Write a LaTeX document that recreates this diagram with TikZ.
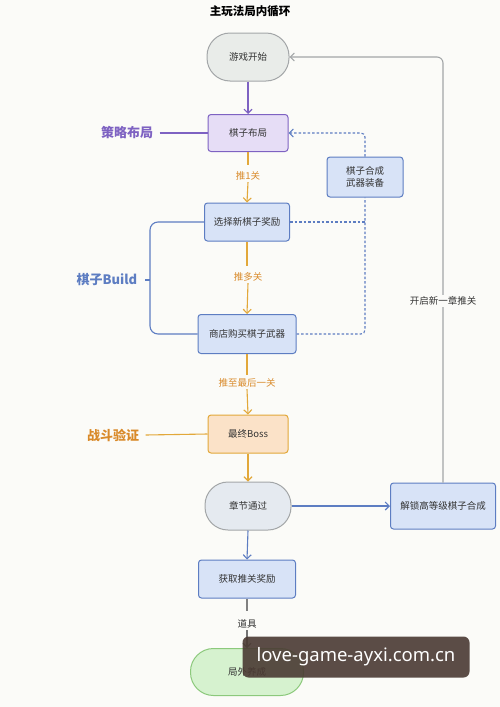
\documentclass[tikz,border=0pt]{standalone}
\usepackage{fontspec}
\setmainfont{Noto Sans CJK SC}
\newfontfamily\wmfont{Noto Sans}
\usetikzlibrary{arrows.meta}
\definecolor{bgc}{HTML}{FBFBF8}
\definecolor{purp}{HTML}{7E62C2}
\definecolor{purpfill}{HTML}{E6DDF6}
\definecolor{orng}{HTML}{E2A83A}
\definecolor{orngtxt}{HTML}{D98A2A}
\definecolor{orngfill}{HTML}{FBE2C8}
\definecolor{blu}{HTML}{5D7DC2}
\definecolor{blufill}{HTML}{D8E3F7}
\definecolor{gry}{HTML}{A3A6A8}
\definecolor{gryfill}{HTML}{E9ECE9}
\definecolor{gbfill}{HTML}{E5EAF0}
\definecolor{grn}{HTML}{8CC97C}
\definecolor{grnfill}{HTML}{D6F2CF}
\definecolor{wm}{HTML}{4A3A33}
\tikzset{
  box/.style={draw, rounded corners=3pt, line width=1pt, inner sep=0pt, font=\fontsize{9.5}{11}\selectfont, text=black!80, align=center},
  stad/.style={box, rounded corners=23pt},
  arr/.style={-{Straight Barb[length=4pt,width=8pt]}, line width=1.1pt},
  dsh/.style={dash pattern=on 2.5pt off 2pt, line width=1.1pt, draw=blu},
  lbl/.style={fill=bgc, inner sep=1.5pt, font=\fontsize{9.5}{11}\selectfont},
  sidelbl/.style={font=\fontsize{13}{15}\selectfont\bfseries},
}
\begin{document}
\begin{tikzpicture}[x=1pt,y=-1pt]
\useasboundingbox[fill=bgc] (0,0) rectangle (500,707);
\node[font=\fontsize{11.5}{13}\selectfont\bfseries] (title) at (250,11) {主玩法局内循环};

\node[stad, draw=gry, fill=gryfill, minimum width=82pt, minimum height=48pt] (start) at (248,57) {游戏开始};
\node[box, draw=purp, fill=purpfill, minimum width=80pt, minimum height=37pt] (layout) at (248,133) {棋子布局};
\node[box, draw=blu, fill=blufill, minimum width=85pt, minimum height=38pt] (pick) at (247,222) {选择新棋子奖励};
\node[box, draw=blu, fill=blufill, minimum width=98pt, minimum height=39pt] (shop) at (247,334) {商店购买棋子武器};
\node[box, draw=orng, fill=orngfill, minimum width=80pt, minimum height=38pt] (boss) at (248,434) {最终Boss};
\node[stad, draw=gry, fill=gbfill, minimum width=86pt, minimum height=48pt] (clear) at (248,506) {章节通过};
\node[box, draw=blu, fill=blufill, minimum width=105pt, minimum height=46pt] (unlock) at (443,506) {解锁高等级棋子合成};
\node[box, draw=blu, fill=blufill, minimum width=76pt, minimum height=40pt] (merge) at (365,177) {棋子合成\\[1pt]武器装备};
\node[box, draw=blu, fill=blufill, minimum width=97pt, minimum height=38pt] (reward) at (247,579) {获取推关奖励};
\node[stad, draw=grn, fill=grnfill, minimum width=113pt, minimum height=47pt] (meta) at (247,672) {局外养成};

\node[sidelbl, text=purp] (l1) at (127,133) {策略布局};
\node[sidelbl, text=blu] (l2) at (107,280) {棋子Build};
\node[sidelbl, text=orngtxt] (l3) at (113,435) {战斗验证};

% side connectors
\draw[purp, line width=1.1pt] (l1.east) ++(3,0) coordinate (l1e) -- (layout.west);
\draw[orng, line width=1.1pt] (l3.east) ++(3,0) coordinate (l3e) -- (boss.west);
\coordinate (bx) at (150,280);
\draw[blu, line width=1.1pt, rounded corners=8pt] (pick.west) -| (bx) |- (shop.west);
\draw[blu, line width=1.1pt] (bx) -- ++(-5,0) coordinate (bxl);

% main flow
\draw[arr, purp] (start.south) -- (layout.north);
\draw[orng, line width=1.1pt] (layout.south) -- ++(0,13) coordinate (a1);
\node[lbl, text=orngtxt] (t1) at (248,176) {推1关};
\draw[arr, orng] (t1.south) -- (pick.north);
\draw[orng, line width=1.1pt] (pick.south) -- ++(0,24) coordinate (a2);
\node[lbl, text=orngtxt] (t2) at (248,277) {推多关};
\draw[arr, orng] (t2.south) -- (shop.north);
\draw[orng, line width=1.1pt] (shop.south) -- ++(0,21) coordinate (a3);
\node[lbl, text=orngtxt] (t3) at (247,383) {推至最后一关};
\draw[arr, orng] (t3.south) -- (boss.north);
\draw[arr, orng] (boss.south) -- (clear.north);
\draw[arr, blu] (clear.south) -- (reward.north);
\draw[arr, blu] (clear.east) -- (unlock.west);
\draw[black!50, line width=1.1pt] (reward.south) -- ++(0,12) coordinate (a4);
\node[lbl, text=black!80] (t4) at (247,624) {道具};
\draw[arr, black!55] (t4.south) -- (meta.north);

% loop back
\coordinate (lp) at (443,57);
\draw[arr, gry, rounded corners=6pt] (unlock.north) -- (lp) -- (start.east);
\node[lbl, text=black!80] (t5) at (443,301) {开启新一章推关};

% dashed
\coordinate (m1) at (365,133);
\coordinate (m2) at (365,222);
\coordinate (m3) at (365,334);
\draw[dsh, -{Straight Barb[length=4pt,width=8pt]}, rounded corners=4pt] (merge.north) -- (m1) -- (layout.east);
\draw[dsh] (pick.east) -- (m2);
\draw[dsh, rounded corners=4pt] (shop.east) -- (m3) -- (merge.south);

% watermark
\node[fill=wm, fill opacity=0.9, text opacity=1, text=white, rounded corners=6pt, minimum width=227pt, minimum height=41pt, font=\wmfont\fontsize{18.5}{21}\selectfont] (wmk) at (356,657) {love-game-ayxi.com.cn};
\end{tikzpicture}
\end{document}
